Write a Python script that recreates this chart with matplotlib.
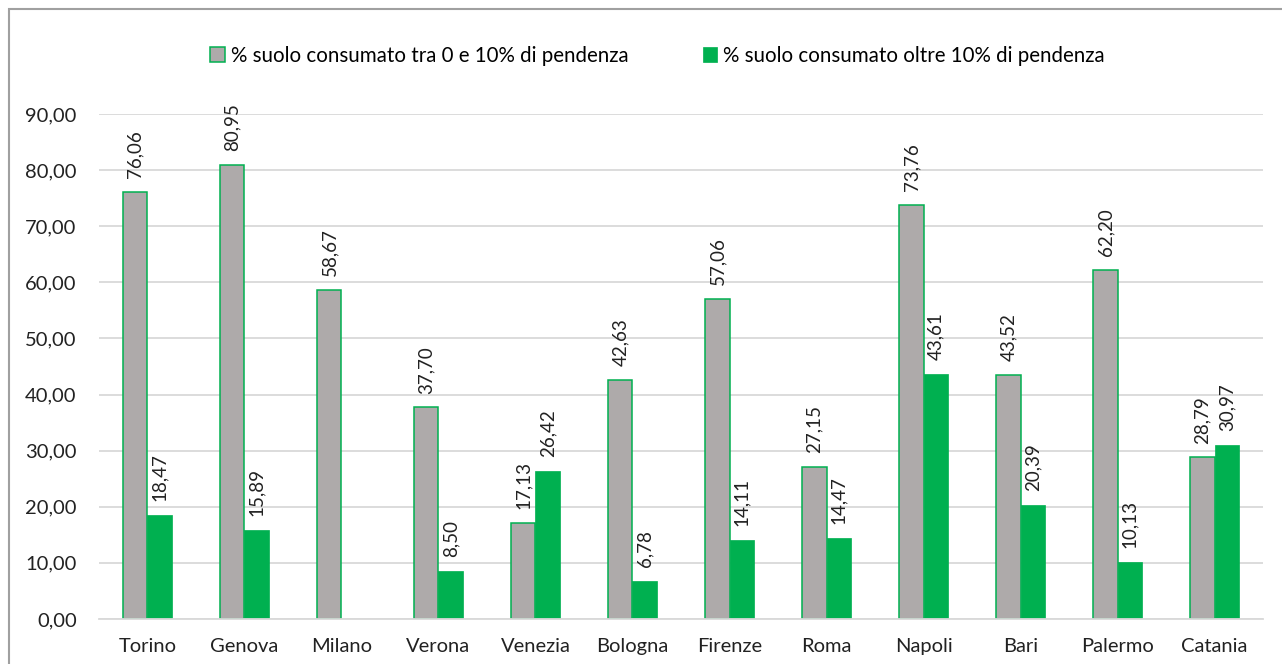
import numpy as np
import matplotlib.pyplot as plt
from matplotlib.patches import Rectangle

citta = ["Torino", "Genova", "Milano", "Verona", "Venezia", "Bologna",
         "Firenze", "Roma", "Napoli", "Bari", "Palermo", "Catania"]
pend_0_10 = [76.06, 80.95, 58.67, 37.70, 17.13, 42.63, 57.06, 27.15, 73.76, 43.52, 62.20, 28.79]
pend_oltre_10 = [18.47, 15.89, np.nan, 8.50, 26.42, 6.78, 14.11, 14.47, 43.61, 20.39, 10.13, 30.97]
label_0_10 = "% suolo consumato tra 0 e 10% di pendenza"
label_oltre = "% suolo consumato oltre 10% di pendenza"

plt.rcParams['font.family'] = ['Lato', 'DejaVu Sans']

grigio = '#AEAAAA'
verde = '#00B050'

fig = plt.figure(figsize=(12.82, 6.64), dpi=100)
ax = fig.add_axes([0.0772, 0.0678, 0.908, 0.7605])

# cornice esterna
fig.patches.append(Rectangle((9 / 1282, -0.05), 1.1, 1 - 9 / 664 + 0.05, transform=fig.transFigure,
                             fill=False, edgecolor='#A0A0A0', linewidth=1.5))

x = np.arange(len(citta))
w = 0.25
ax.bar(x - w / 2, pend_0_10, w, color=grigio, edgecolor=verde, linewidth=1.1, label=label_0_10)
ax.bar(x + w / 2, pend_oltre_10, w, color=verde, edgecolor=verde, linewidth=0.5, label=label_oltre)

def fmt(v):
    return f"{v:.2f}".replace('.', ',')

for xi, v in zip(x - w / 2, pend_0_10):
    ax.annotate(fmt(v), (xi, v), xytext=(0, 10), textcoords='offset points',
                rotation=90, ha='center', va='bottom', fontsize=13.5, color='#222222')
for xi, v in zip(x + w / 2, pend_oltre_10):
    if np.isnan(v):
        continue
    ax.annotate(fmt(v), (xi, v), xytext=(0, 10), textcoords='offset points',
                rotation=90, ha='center', va='bottom', fontsize=13.5, color='#222222')

ax.set_ylim(0, 90)
ax.set_xlim(-0.5, len(citta) - 0.5)
ax.set_yticks(np.arange(0, 91, 10))
ax.set_yticklabels([fmt(t) for t in np.arange(0, 91, 10)])
ax.set_xticks(x)
ax.set_xticklabels(citta)
ax.tick_params(axis='both', length=0, labelsize=14.5, colors='#222222')
ax.tick_params(axis='y', pad=16)
ax.tick_params(axis='x', pad=14)
ax.yaxis.grid(True, color='#D9D9D9', linewidth=1.3)
ax.set_axisbelow(True)
for s in ['top', 'right', 'left']:
    ax.spines[s].set_visible(False)
ax.spines['bottom'].set_color('#D9D9D9')
ax.spines['bottom'].set_linewidth(1.3)

fig.legend(loc='center', bbox_to_anchor=(0.513, 0.916), ncol=2, frameon=False,
           fontsize=14.8, handlelength=0.7, handleheight=0.7, handletextpad=0.3,
           columnspacing=3.6)

fig.savefig("out.png", dpi=100)
